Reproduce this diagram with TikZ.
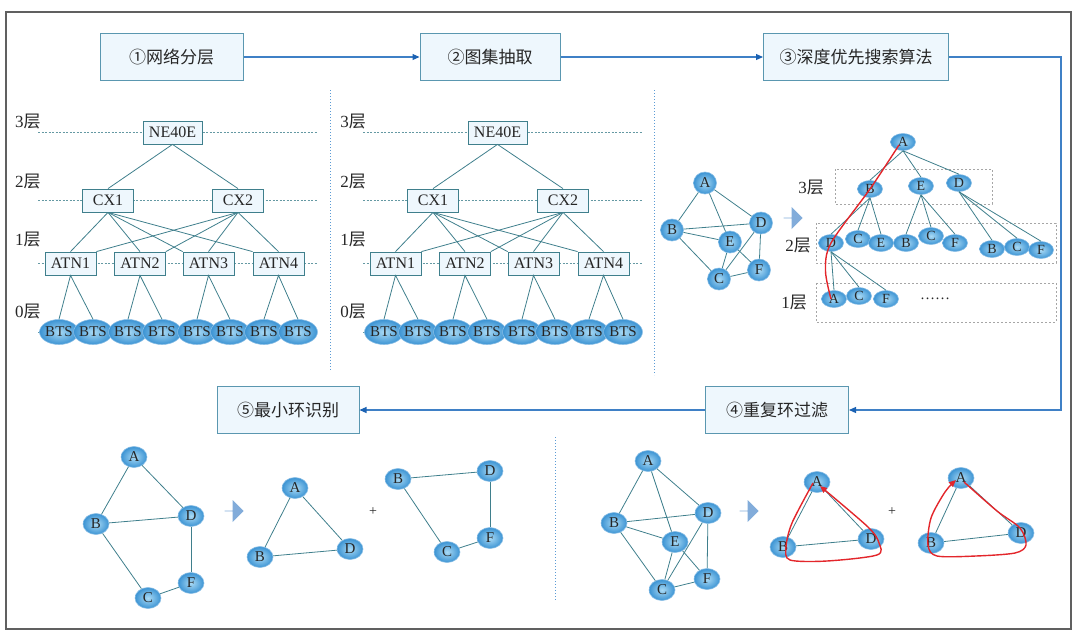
\documentclass[tikz,border=0pt]{standalone}
\usepackage{fontspec}
\setmainfont{Liberation Serif}
\newfontfamily\cjk{Noto Sans CJK SC}
\usepackage{tikz}
\usetikzlibrary{arrows.meta,positioning,shapes.geometric,shapes.arrows,calc}
\definecolor{boxbg}{HTML}{EEF7FD}
\definecolor{boxln}{HTML}{5A97B0}
\definecolor{lnk}{HTML}{3F7F8C}
\definecolor{flowc}{HTML}{3F80C6}
\definecolor{tipc}{HTML}{1B62B3}
\definecolor{sepc}{HTML}{5B9BD5}
\definecolor{ballin}{HTML}{A9DAF5}
\definecolor{ballout}{HTML}{3B93D3}
\definecolor{redc}{HTML}{E3262B}
\definecolor{txt}{HTML}{262626}

\begin{document}
\begin{tikzpicture}[x=1pt, y=-1pt, >={Triangle[length=7pt,width=6pt]},
  stage/.style={draw=boxln, fill=boxbg, line width=1pt, minimum height=47,
    text=txt, font=\fontsize{17}{19}\selectfont\cjk},
  dev/.style={draw=lnk, fill=boxbg, line width=0.8pt, minimum width=51,
    minimum height=23, inner sep=1pt, text=txt, font=\fontsize{16}{17}\selectfont},
  orb/.style={ellipse, draw=ballout!60!white, line width=0.6pt, inner color=ballin,
    outer color=ballout, inner sep=0pt, text=txt},
  bts/.style={orb, minimum width=30, minimum height=25, font=\fontsize{15}{15}\selectfont},
  vx/.style={orb, minimum width=26, minimum height=21, font=\fontsize{15}{15}\selectfont},
  tv/.style={orb, minimum width=25, minimum height=17, font=\fontsize{14}{14}\selectfont},
  lay/.style={text=txt, font=\fontsize{17}{17}\selectfont},
  lk/.style={draw=lnk, line width=0.8pt},
  flow/.style={draw=flowc, line width=1.1pt, -{Triangle[length=7pt,width=6pt,color=tipc]}},
  divider/.style={draw=sepc, line width=1pt, dotted},
  lvl/.style={draw=lnk!80, line width=0.7pt, dash pattern=on 2pt off 1.5pt},
  grp/.style={draw=gray!70, line width=0.7pt, dash pattern=on 2pt off 2pt},
  blk/.style={single arrow, fill=flowc!65, minimum height=19, minimum width=22,
    single arrow head extend=5, single arrow head indent=0pt, inner sep=0pt},
  cyc/.style={draw=redc, line width=1.4pt},
  rim/.style={draw=gray!75!black, line width=1.4pt}]
\useasboundingbox (0,0) rectangle (1080,638);
\draw[rim] (6,12) rectangle (1071,629);

\node[stage, minimum width=143] (s1) at (171.5,57) {①网络分层};
\node[stage, minimum width=140] (s2) at (490,57) {②图集抽取};
\node[stage, minimum width=185] (s3) at (856,57) {③深度优先搜索算法};
\node[stage, minimum width=143] (s4) at (777,410) {④重复环过滤};
\node[stage, minimum width=142] (s5) at (288,410) {⑤最小环识别};
\coordinate (turn) at (1061,57);
\draw[flow] (s1) -- (s2);
\draw[flow] (s2) -- (s3);
\draw[flow] (s3.east) -- (turn) |- (s4.east);
\draw[flow] (s4) -- (s5);

\draw[divider] (330,90) -- (330,370);
\draw[divider] (654,90) -- (654,375);
\draw[divider] (555,437) -- (555,600);

\foreach \p/\dx in {l/0, m/325} {
  \begin{scope}[xshift=\dx]
    \foreach \y in {132,200,263,332} \draw[lvl] (38,\y) -- (318,\y);
    \foreach \y/\n in {122/3,182/2,240/1,312/0}
      \node[lay] (lay\n-\p) at (28,\y) {\n{\cjk 层}};
    \node[dev, minimum width=59] (ne-\p) at (172.5,132.5) {NE40E};
    \node[dev] (cxa-\p) at (108,200.5) {CX1};
    \node[dev] (cxb-\p) at (238,200.5) {CX2};
    \foreach \x [count=\i] in {70.5,140,208.5,278.5}
      \node[dev] (atn\i-\p) at (\x,263.5) {ATN\i};
    \foreach \x [count=\k] in {59,93,128,162,197,230,264,298}
      \node[bts] (bts\k-\p) at (\x,332) {BTS};
    \draw[lk] (cxa-\p.north) -- (ne-\p.south) -- (cxb-\p.north);
    \foreach \i/\a in {1/north,2/north,3/north west,4/north west}
      \draw[lk] (cxa-\p.south) -- (atn\i-\p.\a);
    \foreach \i/\a in {1/north east,2/north east,3/north,4/north}
      \draw[lk] (cxb-\p.south) -- (atn\i-\p.\a);
    \foreach \i/\j/\k in {1/1/2,2/3/4,3/5/6,4/7/8}
      \draw[lk] (bts\j-\p.north) -- (atn\i-\p.south) -- (bts\k-\p.north);
  \end{scope}
}

\node[vx, minimum width=23, minimum height=22] (ga) at (705,183) {A};
\node[vx, minimum width=23, minimum height=22] (gb) at (672,230) {B};
\node[vx, minimum width=23, minimum height=22] (gd) at (761,223) {D};
\node[vx, minimum width=23, minimum height=22] (ge) at (730,242) {E};
\node[vx, minimum width=23, minimum height=22] (gf) at (759,270) {F};
\node[vx, minimum width=23, minimum height=22] (gc) at (719,279) {C};
\foreach \u/\v in {a/b,a/e,a/d,b/d,b/e,b/c,e/c,e/f,d/c,d/f,c/f}
  \draw[lk] (g\u) -- (g\v);
\node[blk] (ar1) at (793,218) {};

\draw[grp] (835,169) rectangle (992,204);
\draw[grp] (816,223) rectangle (1056,263);
\draw[grp] (816,283) rectangle (1056,322);
\node[lay] (t3) at (811,188) {3{\cjk 层}};
\node[lay] (t2) at (798,246) {2{\cjk 层}};
\node[lay] (t1) at (794,303) {1{\cjk 层}};
\node[tv] (ta) at (903,142) {A};
\node[tv] (tb) at (870,189) {B};
\node[tv] (te) at (921,186) {E};
\node[tv] (td) at (959,183) {D};
\node[tv] (d2) at (831,243) {D};
\node[tv] (c2) at (858,239) {C};
\node[tv] (e2) at (881,243) {E};
\node[tv] (b2) at (906,243) {B};
\node[tv] (c2b) at (931,236) {C};
\node[tv] (f2) at (955,243) {F};
\node[tv] (b2d) at (992,249) {B};
\node[tv] (c2d) at (1017,247) {C};
\node[tv] (f2d) at (1041,250) {F};
\node[tv] (a1) at (834,299) {A};
\node[tv] (c1) at (859,296) {C};
\node[tv] (f1) at (886,299) {F};
\node[text=txt, font=\fontsize{15}{15}\selectfont] (more) at (935,299) {……};
\foreach \c in {tb,te,td} \draw[lk] (ta.south) -- (\c.north);
\foreach \c in {d2,c2,e2} \draw[lk] (tb.south) -- (\c.north);
\foreach \c in {b2,c2b,f2} \draw[lk] (te.south) -- (\c.north);
\foreach \c in {b2d,c2d,f2d} \draw[lk] (td.south) -- (\c.north);
\foreach \c in {a1,c1,f1} \draw[lk] (d2.south) -- (\c.north);
\draw[cyc] plot[smooth] coordinates {($(ta)+(-4,3)$) (tb) (d2)
  ($(d2)!0.5!(a1)+(-7,0)$) ($(a1)+(-3,0)$)};

\node[vx] (pa) at (134,457) {A};
\node[vx] (pb) at (96,524) {B};
\node[vx] (pd) at (191,516) {D};
\node[vx] (pc) at (148,598) {C};
\node[vx] (pf) at (191,583) {F};
\foreach \u/\v in {a/b,a/d,b/d,b/c,d/f,c/f} \draw[lk] (p\u) -- (p\v);
\node[blk] (ar2) at (234,511) {};
\node[vx] (qa) at (295,488) {A};
\node[vx] (qb) at (260,557) {B};
\node[vx] (qd) at (350,549) {D};
\foreach \u/\v in {a/b,a/d,b/d} \draw[lk] (q\u) -- (q\v);
\node[text=txt, font=\fontsize{14}{14}\selectfont] (plus1) at (373,512) {+};
\node[vx] (sb) at (398,479) {B};
\node[vx] (sd) at (490,471) {D};
\node[vx] (sf) at (490,538) {F};
\node[vx] (sc) at (447,552) {C};
\foreach \u/\v in {b/d,d/f,f/c,c/b} \draw[lk] (s\u) -- (s\v);

\node[vx] (ha) at (648,461) {A};
\node[vx] (hb) at (614,523) {B};
\node[vx] (hd) at (708,513) {D};
\node[vx] (he) at (675,542) {E};
\node[vx] (hc) at (662,590) {C};
\node[vx] (hf) at (707,579) {F};
\foreach \u/\v in {a/b,a/e,a/d,b/d,b/e,b/c,e/c,e/f,d/c,d/f,c/f}
  \draw[lk] (h\u) -- (h\v);
\node[blk] (ar3) at (749,511) {};
\node[vx] (ua) at (817,482) {A};
\node[vx] (ub) at (783,547) {B};
\node[vx] (ud) at (871,539) {D};
\foreach \u/\v in {a/b,a/d,b/d} \draw[lk] (u\u) -- (u\v);
\node[text=txt, font=\fontsize{14}{14}\selectfont] (plus2) at (892,512) {+};
\node[vx] (wa) at (961,478) {A};
\node[vx] (wb) at (931,543) {B};
\node[vx] (wd) at (1021,533) {D};
\foreach \u/\v in {a/b,a/d,b/d} \draw[lk] (w\u) -- (w\v);
\draw[cyc, ->] plot[smooth] coordinates {($(ua)+(-4,1)$) ($(ub)+(9,-24)$)
  ($(ub)+(3,0)$) ($(ub)+(7,13)$) ($(ub)!0.5!(ud)+(0,18)$) ($(ud)+(6,16)$)
  ($(ud)+(8,4)$) ($(ud)+(-3,-12)$) ($(ua)+(3,4)$)};
\draw[cyc, ->] plot[smooth] coordinates {($(wa)+(3,4)$) ($(wa)!0.6!(wd)$)
  ($(wd)+(-1,-5)$) ($(wd)+(5,12)$) ($(wd)+(-6,20)$) ($(wb)!0.5!(wd)+(0,18)$)
  ($(wb)+(6,13)$) ($(wb)+(-3,2)$) ($(wb)+(0,-25)$) ($(wa)+(-16,14)$) ($(wa)+(-5,2)$)};
\end{tikzpicture}
\end{document}
